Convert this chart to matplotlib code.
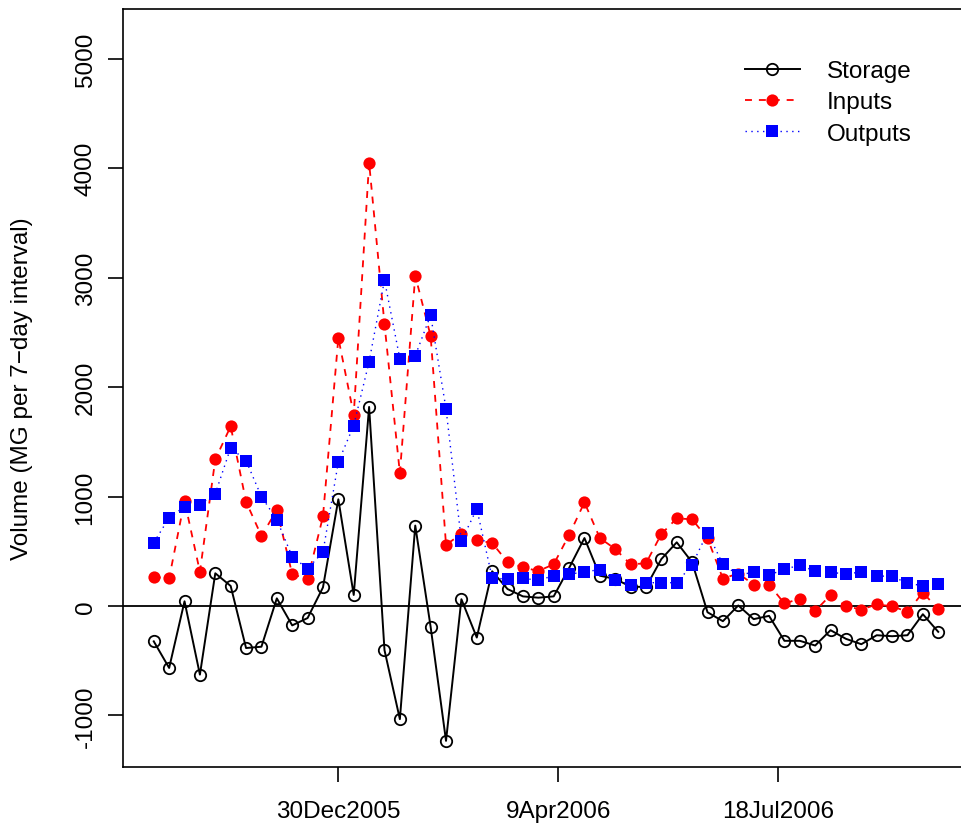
import datetime as dt
import matplotlib
matplotlib.use("Agg")
import matplotlib.pyplot as plt
import matplotlib.dates as mdates

plt.rcParams["font.family"] = ["Liberation Sans", "DejaVu Sans"]
plt.rcParams["lines.scale_dashes"] = False

# weekly totals, MG per 7-day interval
start = dt.date(2005, 10, 7)
dates = [start + dt.timedelta(days=7 * i) for i in range(52)]

storage = [-323, -566, 43, -627, 299, 183, -384, -372, 70, -177,
           -110, 170, 975, 101, 1819, -403, -1034, 735, -191, -1232,
           62, -288, 317, 155, 88, 76, 88, 347, 621, 277,
           247, 177, 174, 429, 582, 399, -57, -139, 5, -120,
           -90, -318, -318, -361, -221, -300, -349, -267, -276, -267,
           -75, -236]
inputs = [265, 253, 962, 313, 1340, 1642, 953, 640, 877, 292,
          244, 818, 2449, 1747, 4051, 2575, 1214, 3018, 2467, 560,
          658, 603, 575, 402, 353, 320, 381, 649, 947, 621,
          521, 381, 390, 658, 801, 792, 618, 251, 297, 196,
          196, 23, 66, -44, 99, -2, -32, 14, -2, -53,
          123, -29]
outputs = [579, 807, 907, 926, 1026, 1446, 1328, 999, 789, 451,
           341, 493, 1316, 1649, 2233, 2978, 2258, 2287, 2658, 1801,
           594, 888, 259, 243, 253, 235, 277, 289, 313, 332,
           241, 195, 213, 213, 213, 377, 670, 382, 282, 309,
           282, 336, 373, 318, 309, 291, 312, 273, 273, 206,
           187, 200]

tick_dates = [dt.date(2005, 12, 30), dt.date(2006, 4, 9), dt.date(2006, 7, 18)]
tick_labels = ["30Dec2005", "9Apr2006", "18Jul2006"]
y_ticks = [-1000, 0, 1000, 2000, 3000, 4000, 5000]

fs = 17.5

fig = plt.figure(figsize=(9.62, 8.29), dpi=100)
ax = fig.add_axes([123 / 962, 61 / 829, 846 / 962, 758 / 829])

ax.axhline(0, color="black", lw=1.3, zorder=1)

ax.plot(dates, storage, color="black", lw=1.4, ls="-",
        marker="o", ms=8.2, mfc="none", mec="black", mew=1.3,
        label="Storage", zorder=2)
ax.plot(dates, inputs, color="red", lw=1.3, ls=(0, (5, 5)),
        marker="o", ms=8.8, mfc="red", mec="red", mew=0,
        label="Inputs", zorder=3)
ax.plot(dates, outputs, color="blue", lw=1.0, ls=(0, (1, 3.2)),
        marker="s", ms=8.6, mfc="blue", mec="blue", mew=0,
        label="Outputs", zorder=4)

ax.set_xlim(dates[0] - dt.timedelta(days=14.3), dates[-1] + dt.timedelta(days=14.3))
ax.set_ylim(-1471, 5455)

ax.set_xticks([mdates.date2num(d) for d in tick_dates])
ax.set_xticklabels(tick_labels)
ax.set_yticks(y_ticks)
ax.set_yticklabels([str(v) for v in y_ticks], rotation=90, va="center")

ax.tick_params(axis="both", length=11, width=1.2, labelsize=fs, direction="out")
ax.tick_params(axis="x", pad=12.5)
ax.tick_params(axis="y", pad=8)
for sp in ax.spines.values():
    sp.set_linewidth(1.2)

fig.text(22 / 962, 1 - 389 / 829, "Volume (MG per 7\u2212day interval)",
         rotation=90, ha="center", va="center", fontsize=fs)

ax.legend(loc="upper left", bbox_to_anchor=(745 / 962, 1 - 61 / 829),
          bbox_transform=fig.transFigure, frameon=False, fontsize=fs,
          handlelength=2.26, handletextpad=1.1, labelspacing=0.38,
          borderpad=0, borderaxespad=0, numpoints=1)

fig.savefig("out.png", dpi=100)
